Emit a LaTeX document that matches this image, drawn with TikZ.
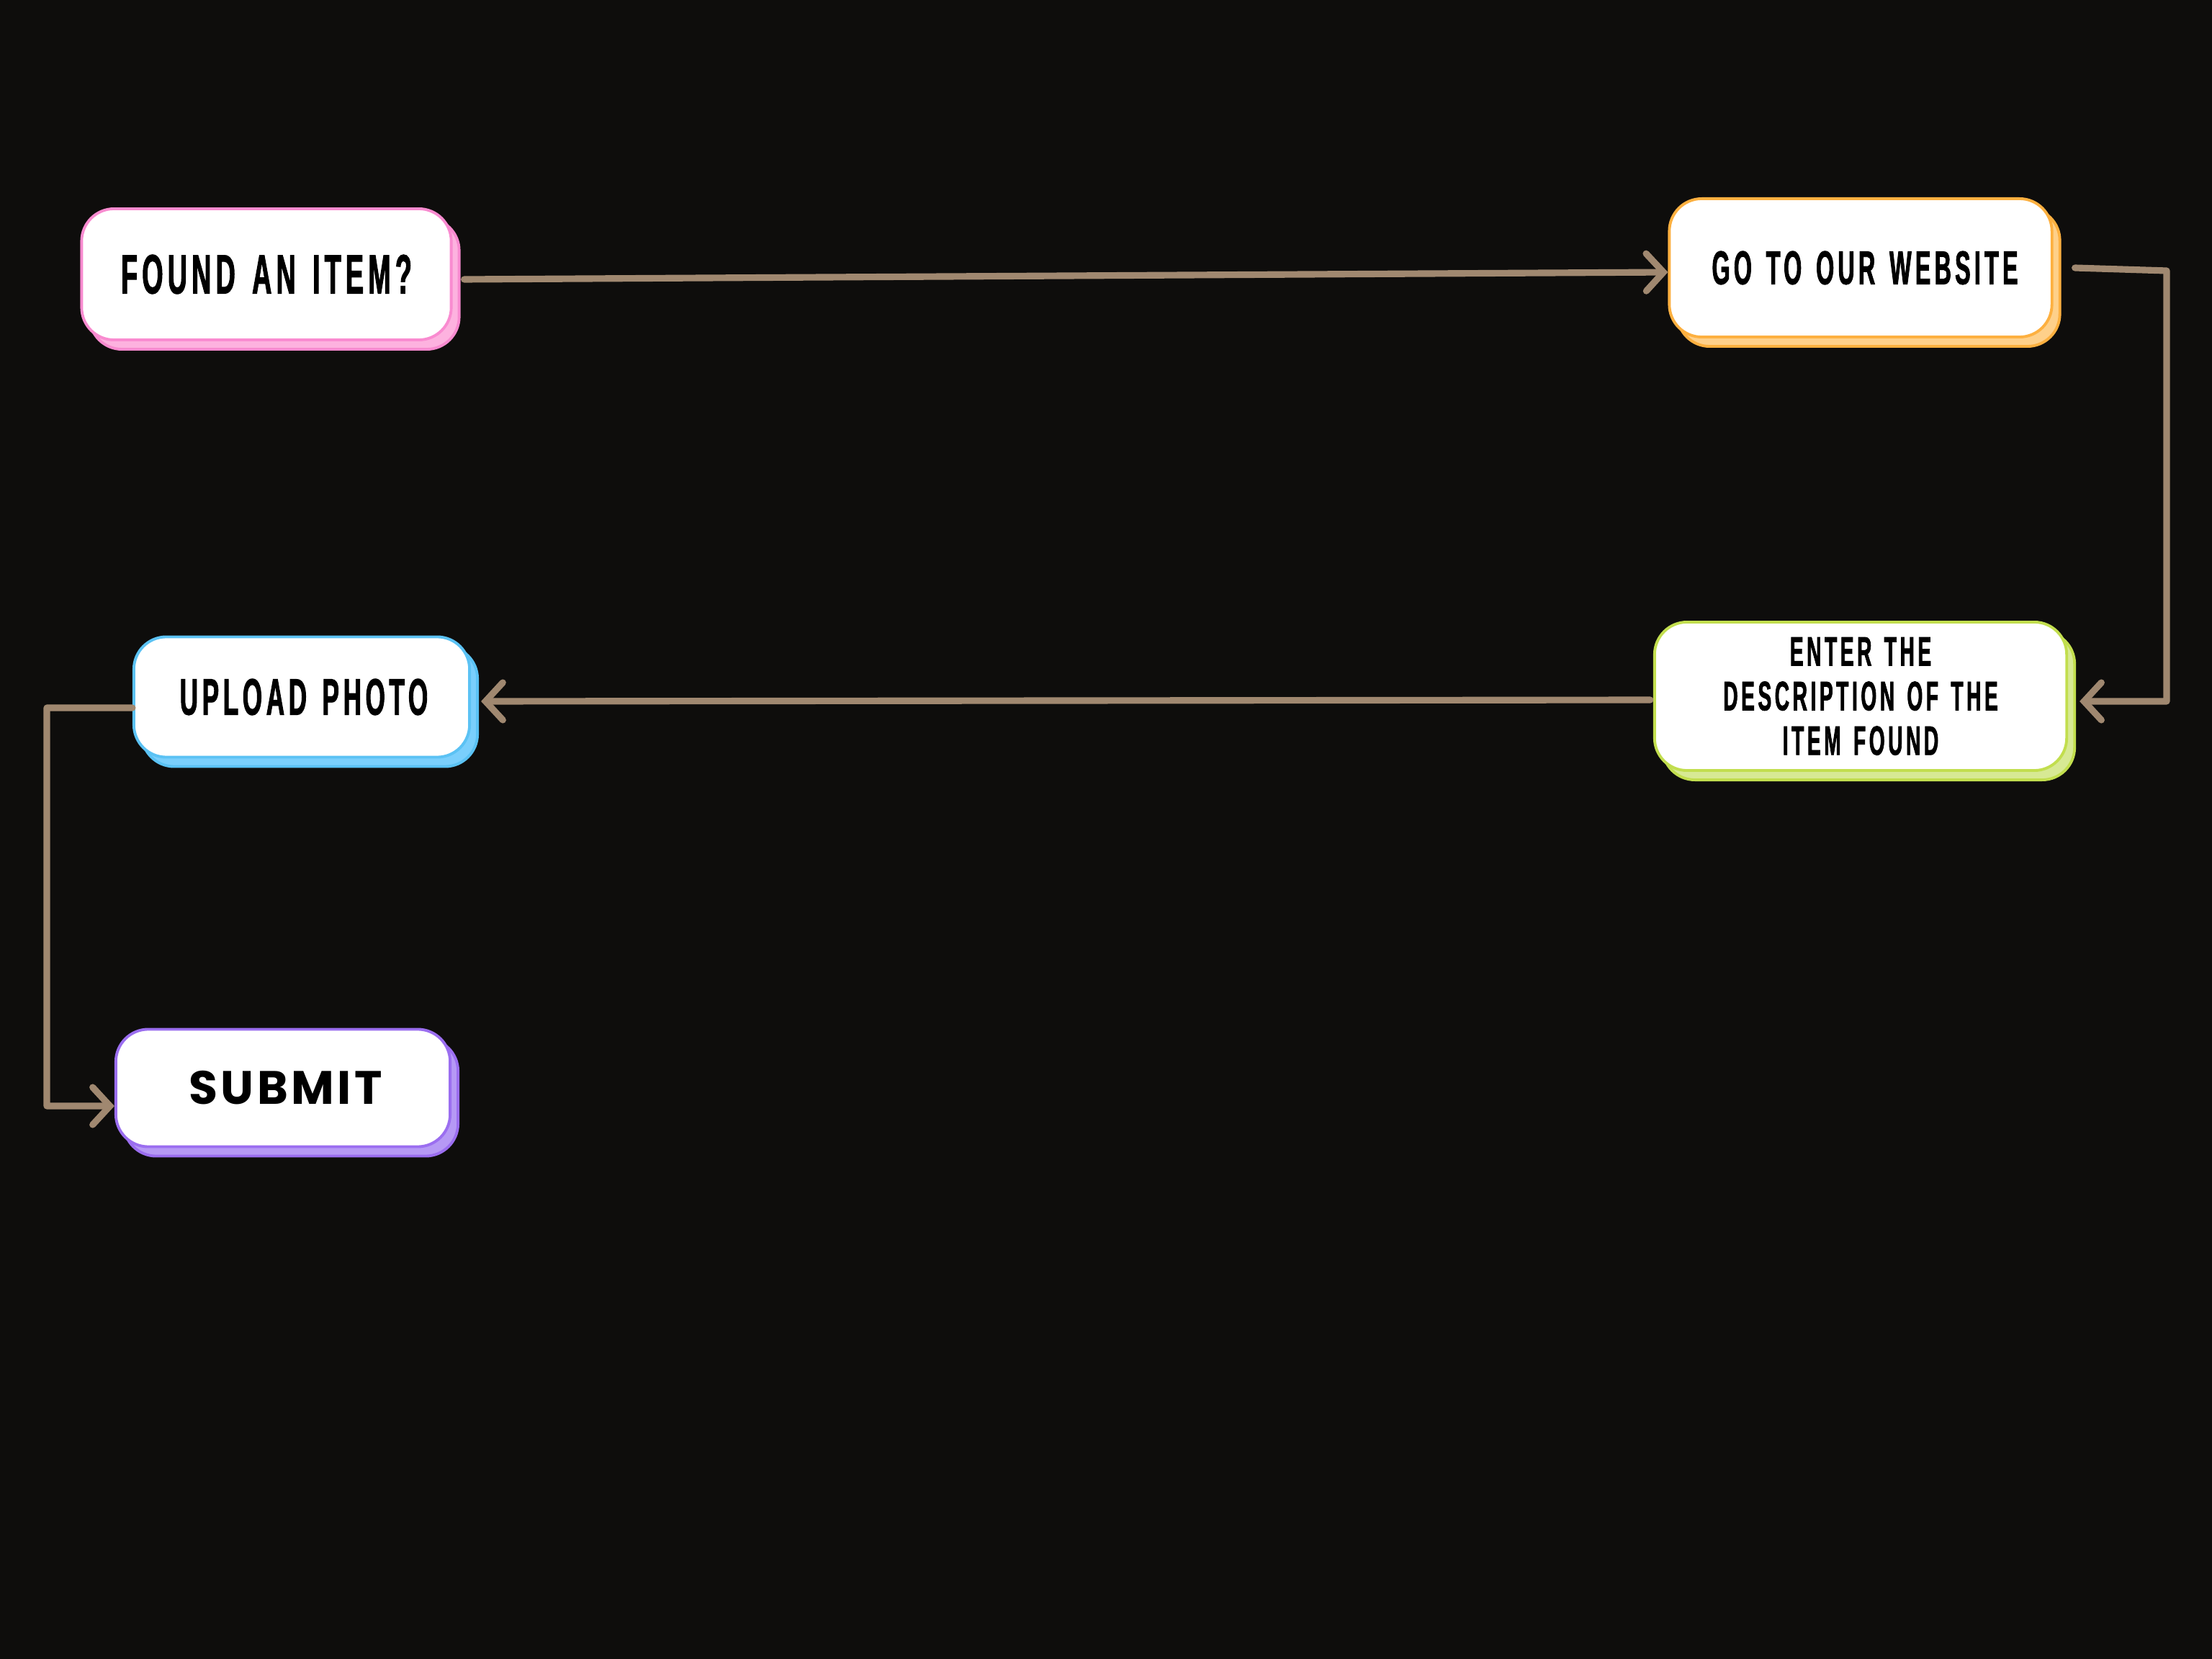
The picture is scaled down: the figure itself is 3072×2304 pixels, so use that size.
\documentclass[tikz,border=0pt]{standalone}
\usepackage{fontspec}
\usetikzlibrary{shadows,arrows.meta}
\newfontfamily\condfont{Liberation Sans}[FakeStretch=0.49, FakeBold=1.3, LetterSpace=8, WordSpace=1.4]
\newfontfamily\subfont{Poppins}[LetterSpace=7]
\definecolor{bgdark}{HTML}{0E0D0C}
\definecolor{flowline}{HTML}{A08870}
\definecolor{pinkline}{HTML}{F98BD0}
\definecolor{pinkfill}{HTML}{FDB2DF}
\definecolor{orangeline}{HTML}{FDB040}
\definecolor{orangefill}{HTML}{FED08A}
\definecolor{greenline}{HTML}{C2DE4E}
\definecolor{greenfill}{HTML}{D7E994}
\definecolor{blueline}{HTML}{5BC2F4}
\definecolor{bluefill}{HTML}{7ACFFC}
\definecolor{purpleline}{HTML}{9B6EF0}
\definecolor{purplefill}{HTML}{B699F5}

\begin{document}
\begin{tikzpicture}[x=0.01cm, y=-0.01cm]
	\tikzset{
		stepbox/.style = {rectangle, rounded corners=0.45cm, draw=#1line, line width=1.1pt, fill=white,
			text=black, align=center, inner sep=0pt,
			copy shadow={shadow xshift=0.11cm, shadow yshift=-0.13cm, fill=#1fill, draw=#1line}},
		flow/.style = {draw=flowline, line width=2.6pt, line cap=round, line join=round},
		flowarrow/.style = {flow, -{Straight Barb[length=0.24cm, width=0.52cm, line cap=round]}}
	}
	\fill[bgdark] (0, 0) rectangle (3072, 2304);
	\useasboundingbox (0, 0) rectangle (3072, 2304);
	\node[stepbox=pink, minimum width=5.13cm, minimum height=1.82cm,
		font=\condfont\bfseries\fontsize{21.9pt}{24pt}\selectfont] (found) at (370, 381) {FOUND AN ITEM?};
	\node[stepbox=orange, minimum width=5.31cm, minimum height=1.92cm,
		font=\condfont\bfseries\fontsize{18.7pt}{21pt}\selectfont] (site) at (2584, 372) {\hspace*{0.12cm}GO TO OUR WEBSITE};
	\node[stepbox=green, minimum width=5.72cm, minimum height=2.06cm,
		font=\condfont\bfseries\fontsize{16.3pt}{17.6pt}\selectfont] (desc) at (2584, 967) {ENTER THE\\DESCRIPTION OF THE\\ITEM FOUND};
	\node[stepbox=blue, minimum width=4.66cm, minimum height=1.67cm,
		font=\condfont\bfseries\fontsize{20.3pt}{22pt}\selectfont] (upload) at (419, 968) {\hspace*{0.06cm}UPLOAD PHOTO};
	\node[stepbox=purple, minimum width=4.64cm, minimum height=1.63cm,
		font=\subfont\bfseries\fontsize{18.5pt}{21pt}\selectfont] (submit) at (393, 1511) {\hspace*{0.07cm}SUBMIT};
	\coordinate (rtop) at (3009, 376);
	\coordinate (lbend) at (65, 983);
	\draw[flowarrow] ([xshift=0.16cm, yshift=-0.07cm]found.east) -- ([yshift=-0.06cm]site.west);
	\draw[flowarrow] ([xshift=0.3cm]site.east) -- (rtop) |- ([xshift=0.16cm, yshift=-0.07cm]desc.east);
	\draw[flowarrow] ([xshift=-0.04cm, yshift=-0.05cm]desc.west) -- ([xshift=0.14cm, yshift=-0.06cm]upload.east);
	\draw[flowarrow] ([yshift=-0.15cm]upload.west) -- (lbend) |- ([yshift=-0.25cm]submit.west);
\end{tikzpicture}
\end{document}
